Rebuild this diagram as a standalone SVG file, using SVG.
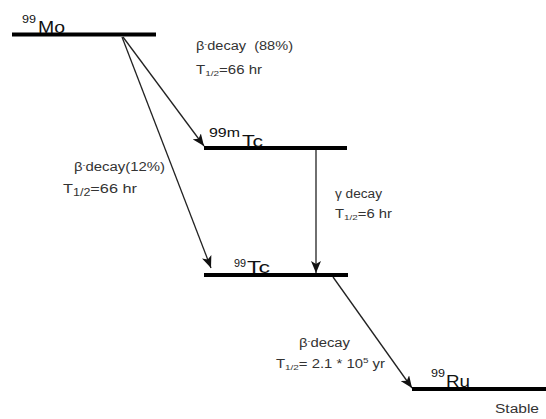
<svg xmlns="http://www.w3.org/2000/svg" width="546" height="419" viewBox="0 0 546 419">
<style>
.lvl{stroke:#000;stroke-width:4;fill:none}
.con{stroke:#222;stroke-width:1.3;fill:none;marker-end:url(#ah)}
text{font-family:"Liberation Sans",Arial,sans-serif;fill:#333}
.big{fill:#111}
.lbl{font-size:12px}
</style>
<defs>
<marker id="ah" markerUnits="userSpaceOnUse" viewBox="0 0 12 10" refX="12" refY="5" markerWidth="12" markerHeight="10" orient="auto">
<path d="M0,0 L12,5 L0,10 L3,5 z" fill="#111"/>
</marker>
</defs>
<rect width="546" height="419" fill="#fff"/>
<g id="connectors">
<line class="con" x1="123" y1="37" x2="204" y2="146"/>
<line class="con" x1="122" y1="37" x2="211" y2="268"/>
<line class="con" x1="316" y1="150" x2="316" y2="273"/>
<line class="con" x1="333" y1="277" x2="412" y2="388"/>
</g>
<g id="mo99">
<line class="lvl" x1="12" y1="34.5" x2="156" y2="34.5"/>
<text x="22" y="23" font-size="11" textLength="14" lengthAdjust="spacingAndGlyphs" class="big">99</text>
<text x="38" y="33" font-size="16" textLength="27" lengthAdjust="spacingAndGlyphs" class="big">Mo</text>
</g>
<g id="tc99m">
<line class="lvl" x1="204" y1="148" x2="347" y2="148"/>
<text x="209" y="137" font-size="12" textLength="31" lengthAdjust="spacingAndGlyphs" class="big">99m</text>
<text x="242" y="147" font-size="16" textLength="21" lengthAdjust="spacingAndGlyphs" class="big">Tc</text>
</g>
<g id="tc99">
<line class="lvl" x1="204" y1="275" x2="348" y2="275"/>
<text x="234" y="267" font-size="10" textLength="12" lengthAdjust="spacingAndGlyphs" class="big">99</text>
<text x="247" y="273" font-size="16" textLength="23" lengthAdjust="spacingAndGlyphs" class="big">Tc</text>
</g>
<g id="ru99">
<line class="lvl" x1="412" y1="389" x2="546" y2="389"/>
<text x="431" y="377" font-size="11" textLength="14" lengthAdjust="spacingAndGlyphs" class="big">99</text>
<text x="446" y="387" font-size="16" textLength="24" lengthAdjust="spacingAndGlyphs" class="big">Ru</text>
<text x="495" y="413" font-size="12" textLength="44" lengthAdjust="spacingAndGlyphs">Stable</text>
</g>
<g id="label-beta88">
<text x="196" y="50" class="lbl" textLength="97" lengthAdjust="spacingAndGlyphs" xml:space="preserve">β<tspan font-size="7" dy="-4">-</tspan><tspan dy="4">decay  (88%)</tspan></text>
<text x="196" y="74" class="lbl" textLength="66" lengthAdjust="spacingAndGlyphs">T<tspan font-size="8" dy="2">1/2</tspan><tspan dy="-2">=66 hr</tspan></text>
</g>
<g id="label-beta12">
<text x="74" y="171" class="lbl" textLength="91" lengthAdjust="spacingAndGlyphs">β<tspan font-size="7" dy="-4">-</tspan><tspan dy="4">decay(12%)</tspan></text>
<text x="63" y="193" font-size="13" textLength="74" lengthAdjust="spacingAndGlyphs">T<tspan font-size="10" dy="3">1/2</tspan><tspan dy="-3">=66 hr</tspan></text>
</g>
<g id="label-gamma">
<text x="335" y="198" class="lbl" textLength="47" lengthAdjust="spacingAndGlyphs">γ decay</text>
<text x="335" y="218" class="lbl" textLength="57" lengthAdjust="spacingAndGlyphs">T<tspan font-size="8" dy="2">1/2</tspan><tspan dy="-2">=6 hr</tspan></text>
</g>
<g id="label-beta-ru">
<text x="299" y="347" class="lbl" textLength="51" lengthAdjust="spacingAndGlyphs">β<tspan font-size="7" dy="-4">-</tspan><tspan dy="4">decay</tspan></text>
<text x="276" y="368" class="lbl" textLength="109" lengthAdjust="spacingAndGlyphs">T<tspan font-size="8" dy="2">1/2</tspan><tspan dy="-2">= 2.1 * 10</tspan><tspan font-size="8" dy="-5">5</tspan><tspan dy="5"> yr</tspan></text>
</g>
</svg>
